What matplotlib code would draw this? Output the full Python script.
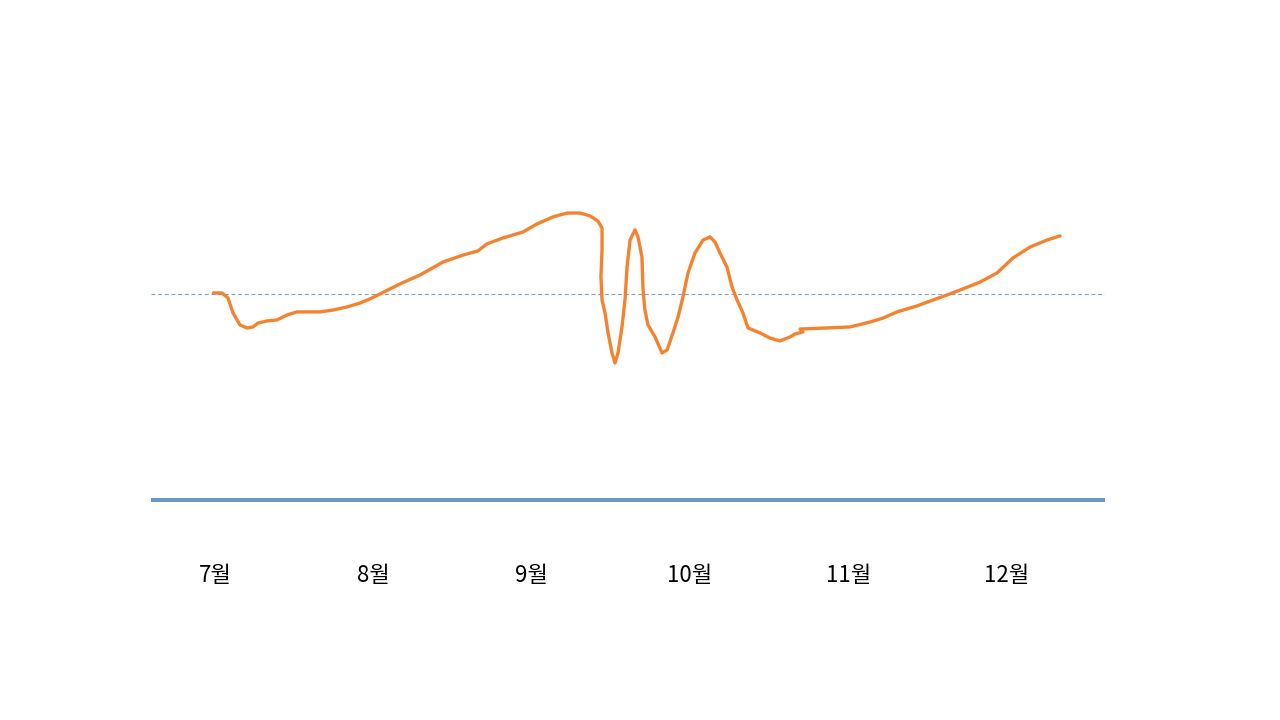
import matplotlib
matplotlib.use("Agg")
import matplotlib.pyplot as plt

plt.rcParams['font.family'] = ['Noto Sans CJK KR', 'DejaVu Sans']

# Month labels (category axis)
months = ['7월', '8월', '9월', '10월', '11월', '12월']
month_pos = [0, 1, 2, 3, 4, 5]

# Reference level (dashed line) and baseline
reference_value = 100
baseline_value = 0

# Hand-drawn curve: x in months from July, y in arbitrary units (reference = 100)
curve_x = [-0.01, 0.044, 0.082, 0.114, 0.158, 0.202, 0.240, 0.272, 0.328, 0.392,
           0.455, 0.518, 0.663, 0.745, 0.834, 0.916, 0.979, 1.042, 1.169, 1.295,
           1.440, 1.567, 1.661, 1.718, 1.819, 1.946, 2.034, 2.135, 2.224, 2.306,
           2.369, 2.419, 2.445, 2.445, 2.438, 2.445, 2.464, 2.483, 2.508, 2.527,
           2.546, 2.571, 2.590, 2.603, 2.622, 2.653, 2.672, 2.697, 2.704, 2.716,
           2.735, 2.780, 2.824, 2.856, 2.893, 2.925, 2.956, 2.988, 3.032, 3.083,
           3.127, 3.159, 3.190, 3.234, 3.266, 3.298, 3.335, 3.367, 3.443, 3.506,
           3.569, 3.632, 3.664, 3.714, 3.696, 3.866, 4.011, 4.138, 4.220, 4.308,
           4.435, 4.536, 4.624, 4.706, 4.833, 4.940, 5.041, 5.149, 5.256, 5.338]
curve_y = [100.5, 100.5, 98.1, 90.8, 85.0, 83.5, 84.0, 85.9, 86.9, 87.4,
           89.8, 91.3, 91.3, 92.2, 93.7, 95.6, 97.6, 100.0, 104.9, 109.2,
           115.5, 118.9, 120.9, 124.3, 127.2, 130.1, 134.0, 137.4, 139.3, 139.3,
           137.9, 135.4, 132.0, 121.4, 108.3, 97.1, 90.8, 81.1, 71.4, 66.5,
           71.4, 84.0, 97.1, 113.1, 126.2, 131.1, 127.7, 118.0, 101.9, 92.2,
           85.0, 79.1, 71.4, 72.8, 81.1, 88.8, 98.5, 110.2, 119.9, 126.2,
           127.7, 125.2, 119.9, 113.1, 103.4, 97.1, 90.8, 83.5, 81.1, 78.6,
           77.2, 79.1, 80.6, 81.6, 83.0, 83.5, 84.0, 86.4, 88.3, 91.3,
           94.2, 97.1, 99.5, 101.9, 105.8, 110.2, 117.5, 122.8, 126.2, 128.2]

fig = plt.figure(figsize=(12.8, 7.2), dpi=100)
ax = fig.add_axes([151 / 1280, 220 / 720, 954 / 1280, 500 / 720])
ax.set_xlim(-0.404, 5.622)
ax.set_ylim(0, 242.7)

ax.axhline(reference_value, color='#7FA2B8', lw=0.8, dashes=(3.5, 2.5), zorder=1)
ax.axhline(baseline_value, color='#6A98C6', lw=2.9, clip_on=False, zorder=2,
           solid_capstyle='butt')
ax.plot(curve_x, curve_y, color='#F5822F', lw=2.4, solid_joinstyle='round',
        solid_capstyle='round', zorder=3)

for s in ax.spines.values():
    s.set_visible(False)
ax.set_yticks([])
ax.set_xticks(month_pos)
ax.set_xticklabels(months, fontsize=16, color='black')
ax.tick_params(axis='x', length=0, pad=54.6)
for lab in ax.get_xticklabels():
    lab.set_va('center')
ax.patch.set_alpha(0)

fig.savefig('out.png', dpi=100, facecolor='white')
